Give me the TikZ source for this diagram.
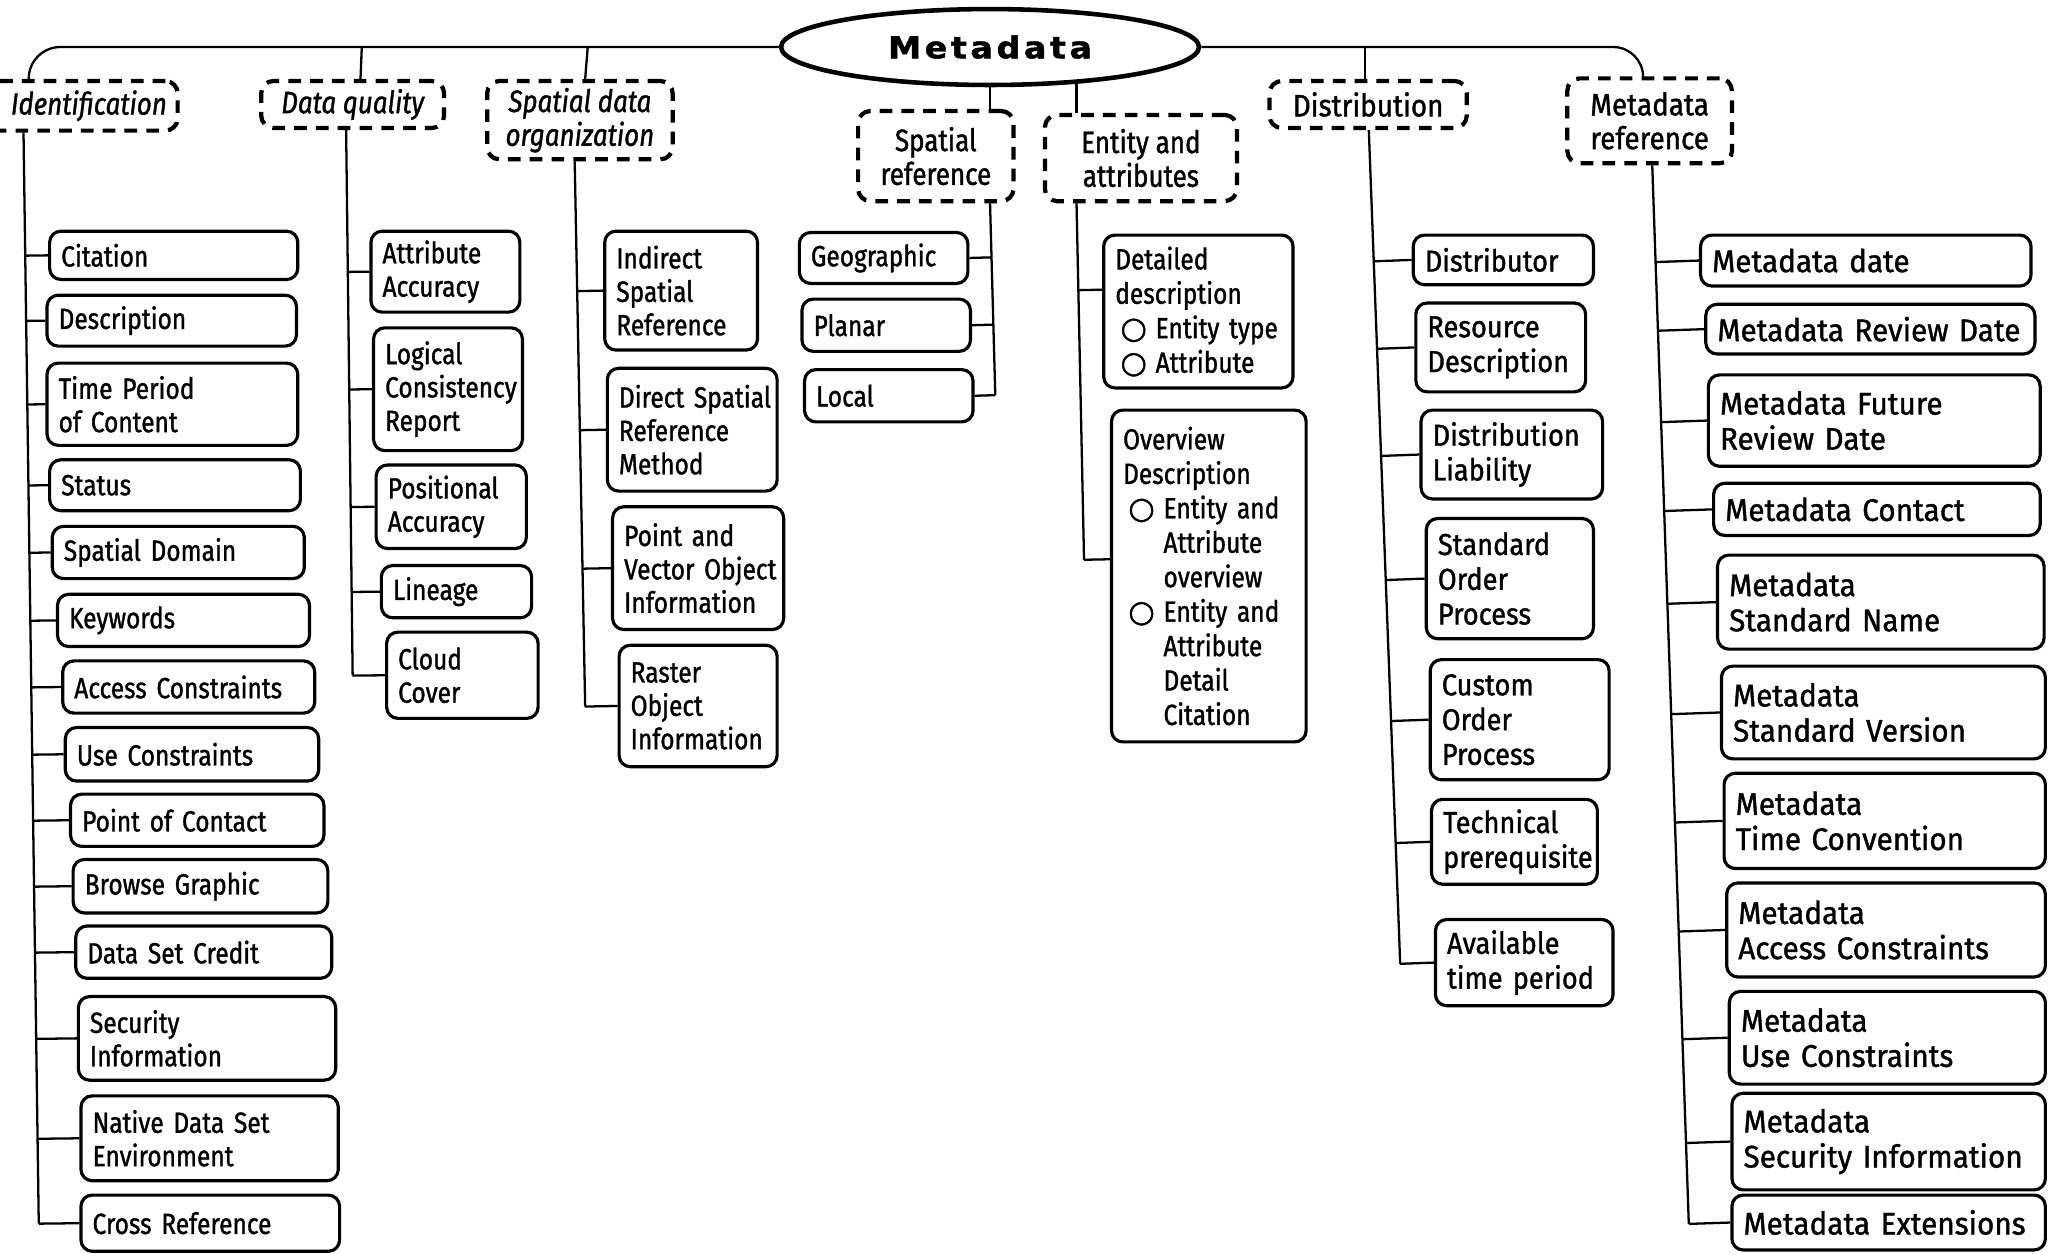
\documentclass[tikz,border=0pt]{standalone}
\usepackage{fontspec}
\setmainfont{Fira Sans}[FakeStretch=0.84,FakeBold=1.2]
\newfontfamily\midfont{Fira Sans}[FakeStretch=0.9,FakeBold=1.2]
\newfontfamily\widefont{Fira Sans}[FakeStretch=0.95,FakeBold=1.2]
\newfontfamily\titlefont{DejaVu Sans}[LetterSpace=12,FakeStretch=1.1,FakeBold=1.5]
\newfontfamily\symfont{DejaVu Sans}[FakeBold=1.5]
\usetikzlibrary{shapes.geometric,calc}
\hyphenpenalty=10000
\exhyphenpenalty=10000
\hfuzz=20pt

% one drawing unit is 1/1568 of the picture width
\newcommand\unitpt{0.37163}
\newcommand\bul{\hspace*{1.5pt}\makebox[10pt][l]{\symfont\fontsize{8.6}{8.6}\selectfont ○}}
\newcommand\ind{\hspace*{11.5pt}}

\tikzset{
  leaf/.style={draw, line width=0.9pt, rounded corners=3.2pt, align=left,
    inner xsep=3.3pt, inner ysep=0pt, font=\fontsize{8.3}{9.5}\selectfont},
  cat/.style={draw, dashed, dash pattern=on 3.6pt off 2.6pt, line width=1.2pt,
    rounded corners=3.5pt, align=center, inner sep=0pt,
    font=\fontsize{8.8}{9.6}\selectfont},
  conn/.style={line width=0.65pt},
  distf/.style={font=\midfont\fontsize{8.6}{9.9}\selectfont},
  mreff/.style={font=\widefont\fontsize{8.9}{10}\selectfont},
  entf/.style={font=\fontsize{8.3}{9.8}\selectfont},
}

% leaf box from its corners (x1,y1)-(x2,y2)
\newcommand\leafbox[7][]{%
  \pgfmathsetmacro\bw{(#5-#3)*\unitpt-6.6}%
  \pgfmathsetmacro\bh{(#6-#4)*\unitpt}%
  \node[leaf,#1,text width=\bw pt,minimum height=\bh pt] (#2)
    at ({(#3+#5)/2},{(#4+#6)/2}) {#7};}
% dashed category box from its corners
\newcommand\catbox[7][]{%
  \pgfmathsetmacro\bw{(#5-#3)*\unitpt}%
  \pgfmathsetmacro\bh{(#6-#4)*\unitpt}%
  \node[cat,#1,minimum width=\bw pt,minimum height=\bh pt] (#2)
    at ({(#3+#5)/2},{(#4+#6)/2}) {#7};}

\begin{document}
\begin{tikzpicture}[x=0.0130612cm,y=-0.0130612cm]
\useasboundingbox (0,0) rectangle (1568,960);

% root
\node[ellipse, draw, line width=1.3pt, minimum width=118.9pt, minimum height=21.6pt,
  inner sep=0pt, font=\titlefont\bfseries\fontsize{8.6}{9}\selectfont] (meta) at (758,36) {Metadata};

% categories
\catbox[font=\itshape\fontsize{8.8}{9.6}\selectfont]{idn}{-16}{62}{136}{100}{\hspace*{6pt}Identification}
\catbox[font=\itshape\fontsize{8.8}{9.6}\selectfont]{dq}{200}{62}{340}{98}{Data quality}
\catbox[font=\itshape\fontsize{8.8}{9.6}\selectfont]{sdo}{373}{62}{515}{122}{Spatial data\\organization}
\catbox{sref}{657}{85}{776}{154}{Spatial\\reference}
\catbox{ent}{800}{88}{947}{154}{Entity and\\attributes}
\catbox[font=\midfont\fontsize{8.8}{9.6}\selectfont]{dist}{972}{62}{1123}{98}{Distribution}
\catbox[font=\midfont\fontsize{8.8}{9.6}\selectfont]{mref}{1200}{60}{1326}{125}{Metadata\\reference}

% top bus
\draw[conn, rounded corners=9pt] (22,0 |- idn.north) |- (meta.west);
\draw[conn, rounded corners=8.5pt] (meta.east) -| (1258,0 |- mref.north);
\draw[conn] (dq.north -| 276,0) -- (277,0 |- meta.west);
\draw[conn] (sdo.north -| 448,0) -- (450,0 |- meta.west);
\draw[conn] (dist.north -| 1045,0) -- (1045,0 |- meta.east);
\draw[conn] (meta.south) -- (sref.north -| meta.south);
\draw[conn] (meta.-23) -- (meta.-23 |- ent.north);

% Identification
\leafbox{i1}{38}{177}{228}{214}{Citation}
\leafbox{i2}{36}{226}{227}{265}{Description}
\leafbox{i3}{36}{278}{228}{341}{Time Period\\of Content}
\leafbox{i4}{38}{352}{230}{391}{Status}
\leafbox{i5}{40}{403}{233}{443}{Spatial Domain}
\leafbox{i6}{44}{455}{237}{495}{Keywords}
\leafbox{i7}{48}{506}{241}{546}{Access Constraints}
\leafbox{i8}{50}{557}{244}{598}{Use Constraints}
\leafbox{i9}{54}{608}{248}{648}{Point of Contact}
\leafbox{i10}{56}{658}{251}{699}{Browse Graphic}
\leafbox{i11}{58}{709}{254}{749}{Data Set Credit}
\leafbox{i12}{60}{763}{257}{827}{Security\\Information}
\leafbox{i13}{62}{839}{259}{904}{Native Data Set\\Environment}
\leafbox{i14}{62}{915}{260}{958}{Cross Reference}
\coordinate (iA) at (18,0 |- idn.south);
\coordinate (iB) at (30,960);
\foreach \k in {1,...,14} \draw[conn] (i\k.west) -- ($(iA)!(i\k.west)!(iB)$);
\draw[conn] (iA) -- ($(iA)!(i14.west)!(iB)$);

% Data quality
\leafbox{q1}{284}{177}{398}{239}{Attribute\\Accuracy}
\leafbox{q2}{286}{251}{400}{345}{Logical\\Consistency\\Report}
\leafbox{q3}{288}{356}{403}{420}{Positional\\Accuracy}
\leafbox{q4}{292}{433}{407}{473}{Lineage}
\leafbox{q5}{296}{484}{412}{550}{Cloud\\Cover}
\coordinate (qA) at (265,0 |- dq.south);
\coordinate (qB) at (270,517);
\foreach \k in {1,...,5} \draw[conn] (q\k.west) -- ($(qA)!(q\k.west)!(qB)$);
\draw[conn] (qA) -- ($(qA)!(q5.west)!(qB)$);

% Spatial data organization
\leafbox{s1}{463}{177}{580}{268}{Indirect\\Spatial\\Reference}
\leafbox{s2}{465}{282}{595}{376}{Direct~Spatial\\Reference\\Method}
\leafbox{s3}{469}{388}{600}{482}{Point and\\Vector~Object\\Information}
\leafbox{s4}{474}{494}{595}{587}{Raster\\Object\\Information}
\coordinate (sA) at (440,0 |- sdo.south);
\coordinate (sB) at (448,540);
\foreach \k in {1,...,4} \draw[conn] (s\k.west) -- ($(sA)!(s\k.west)!(sB)$);
\draw[conn] (sA) -- ($(sA)!(s4.west)!(sB)$);

% Spatial reference
\leafbox{g1}{612}{178}{741}{217}{Geographic}
\leafbox{g2}{614}{229}{743}{269}{Planar}
\leafbox{g3}{616}{283}{745}{323}{Local}
\coordinate (gA) at (sref.south -| meta.south);
\coordinate (gB) at (762,302);
\foreach \k in {1,...,3} \draw[conn] (g\k.east) -- ($(gA)!(g\k.east)!(gB)$);
\draw[conn] (gA) -- ($(gA)!(g3.east)!(gB)$);

% Entity and attributes
\leafbox[entf]{e1}{845}{180}{990}{297}{Detailed\\description\\\bul Entity type\\\bul Attribute}
\leafbox[entf]{e2}{851}{314}{1000}{568}{Overview\\Description\\\bul Entity and\\\ind Attribute\\\ind overview\\\bul Entity and\\\ind Attribute\\\ind Detail\\\ind Citation}
\coordinate (eA) at (ent.south -| meta.-23);
\coordinate (eB) at (830,430);
\coordinate (e1s) at ($(e1.north west)!0.36!(e1.south west)$);
\coordinate (e2s) at ($(e2.north west)!0.45!(e2.south west)$);
\draw[conn] (e1s) -- ($(eA)!(e1s)!(eB)$);
\draw[conn] (e2s) -- ($(eA)!(e2s)!(eB)$);
\draw[conn] (eA) -- ($(eA)!(e2s)!(eB)$);

% Distribution
\leafbox[distf]{d1}{1082}{180}{1220}{218}{Distributor}
\leafbox[distf]{d2}{1084}{232}{1214}{300}{Resource\\Description}
\leafbox[distf]{d3}{1088}{314}{1227}{382}{Distribution\\Liability}
\leafbox[distf]{d4}{1092}{397}{1220}{489}{Standard\\Order\\Process}
\leafbox[distf]{d5}{1095}{505}{1232}{597}{Custom\\Order\\Process}
\leafbox[distf]{d6}{1096}{612}{1223}{677}{Technical\\prerequisite}
\leafbox[distf]{d7}{1099}{704}{1235}{770}{Available\\time period}
\coordinate (dA) at (1048,0 |- dist.south);
\coordinate (dB) at (1072,737);
\foreach \k in {1,...,7} \draw[conn] (d\k.west) -- ($(dA)!(d\k.west)!(dB)$);
\draw[conn] (dA) -- ($(dA)!(d7.west)!(dB)$);

% Metadata reference
\leafbox[mreff]{m1}{1302}{180}{1555}{219}{Metadata date}
\leafbox[mreff]{m2}{1306}{233}{1558}{271}{Metadata Review Date}
\leafbox[mreff]{m3}{1308}{287}{1562}{357}{Metadata Future\\Review Date}
\leafbox[mreff]{m4}{1312}{370}{1562}{410}{Metadata Contact}
\leafbox[mreff]{m5}{1315}{425}{1565}{497}{Metadata\\Standard Name}
\leafbox[mreff]{m6}{1318}{510}{1566}{581}{Metadata\\Standard Version}
\leafbox[mreff]{m7}{1320}{592}{1566}{665}{Metadata\\Time Convention}
\leafbox[mreff]{m8}{1322}{676}{1566}{748}{Metadata\\Access Constraints}
\leafbox[mreff]{m9}{1324}{759}{1566}{830}{Metadata\\Use Constraints}
\leafbox[mreff]{m10}{1326}{837}{1566}{911}{Metadata\\Security Information}
\leafbox[mreff]{m11}{1326}{915}{1566}{957}{Metadata Extensions}
\coordinate (mA) at (1265,0 |- mref.south);
\coordinate (mB) at (1293,937);
\foreach \k in {1,...,11} \draw[conn] (m\k.west) -- ($(mA)!(m\k.west)!(mB)$);
\draw[conn] (mA) -- ($(mA)!(m11.west)!(mB)$);
\end{tikzpicture}
\end{document}
